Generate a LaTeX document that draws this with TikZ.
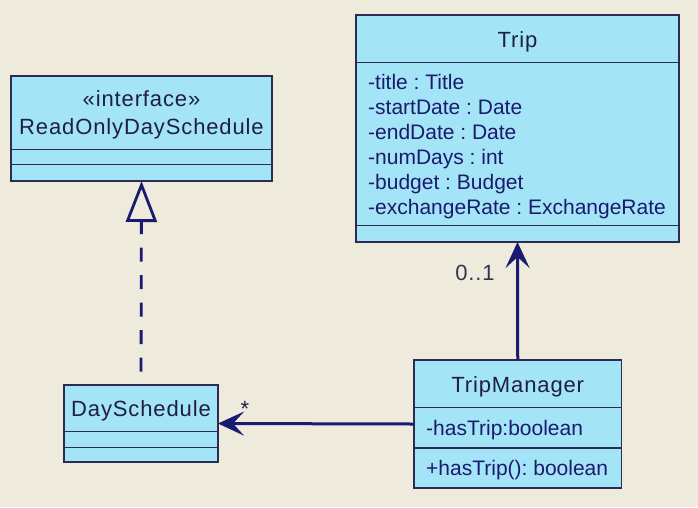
\documentclass[tikz,border=0pt]{standalone}
\usepackage{fontspec}
\setmainfont{Liberation Sans}
\newfontfamily\namefont[LetterSpace=4]{Liberation Sans}
\usetikzlibrary{arrows.meta}
\frenchspacing

\definecolor{bgcol}{HTML}{EEEADC}
\definecolor{boxfill}{HTML}{A3E4F7}
\definecolor{boxline}{HTML}{2B2B55}
\definecolor{namecol}{HTML}{1F1F40}
\definecolor{attrcol}{HTML}{1B1B6E}
\definecolor{linkcol}{HTML}{1A1A70}
\definecolor{multcol}{HTML}{35354A}

\tikzset{
  classbox/.style={rectangle,draw=boxline,fill=boxfill,line width=1.7pt,inner sep=0pt,outer sep=0pt},
  divider/.style={draw=boxline,line width=1.6pt},
  classname/.style={font=\namefont\fontsize{22}{26}\selectfont,text=namecol,inner sep=0pt,anchor=base},
  attr/.style={font=\fontsize{21}{25}\selectfont,text=attrcol,inner sep=0pt,anchor=base west},
  mult/.style={font=\namefont\fontsize{22}{26}\selectfont,inner sep=0pt,anchor=base},
  assoc/.style={draw=linkcol,line width=3pt,-{Stealth[length=26pt,width=24pt,inset=11pt]}},
  realize/.style={draw=linkcol,line width=2.8pt,dash pattern=on 14pt off 13.5pt,dash phase=14pt,
    -{Triangle[open,length=41pt,width=31pt]}}
}

\begin{document}
\begin{tikzpicture}[x=1pt,y=-1pt]

      \fill[bgcol] (0,0) rectangle (698,507);
      \useasboundingbox (0,0) rectangle (698,507);

      \begin{scope}[every node/.style={classbox}]
        \node[minimum width=261pt,minimum height=105pt] (rod)  at (141.5,128.5) {};
        \node[minimum width=323pt,minimum height=227pt] (trip) at (517.5,128.5) {};
        \node[minimum width=154pt,minimum height=77pt]  (ds)   at (141,423.5)   {};
        \node[minimum width=207.5pt,minimum height=128pt] (tm) at (517.75,424)  {};
      \end{scope}

      \begin{scope}[divider]
        \draw (11,149.5) -- (272,149.5);
        \draw (11,164.5) -- (272,164.5);
        \draw (356,62.5) -- (679,62.5);
        \draw (356,225.5) -- (679,225.5);
        \draw (64,431.5) -- (218,431.5);
        \draw (64,447.5) -- (218,447.5);
        \draw (414,407.5) -- (621.5,407.5);
        \draw (414,448) -- (621.5,448);
      \end{scope}

      \begin{scope}[every node/.style={classname}]
        \node (rodstereo) at (141.5,106) {«interface»};
        \node (rodname)   at (141.5,134) {ReadOnlyDaySchedule};
        \node (tripname)  at (517.5,47)  {Trip};
        \node (dsname)    at (141,416)   {DaySchedule};
        \node (tmname)    at (517.75,392.5) {TripManager};
      \end{scope}

      \begin{scope}[every node/.style={attr}]
        \foreach \a [count=\i] in {-title : Title,-startDate : Date,-endDate : Date,
            -numDays : int,-budget : Budget,-exchangeRate : ExchangeRate}
          \node (tripattr\i) at (368,64+25*\i) {\a};
        \node (tmattr) at (426,435)   {-hasTrip:boolean};
        \node (tmop)   at (426,475.5) {+hasTrip(): boolean};
      \end{scope}

      \path (ds.north) edge[realize] (rod.south);
      \path (tm.north) edge[assoc] (trip.south);
      \path (tm.west)  edge[assoc] (ds.east);

      \begin{scope}[every node/.style={mult}]
        \node[text=multcol] (tripmult) at (475,280) {0..1};
        \node[text=namecol] (dsmult)   at (245,416) {*};
      \end{scope}

    \end{tikzpicture}
\end{document}
